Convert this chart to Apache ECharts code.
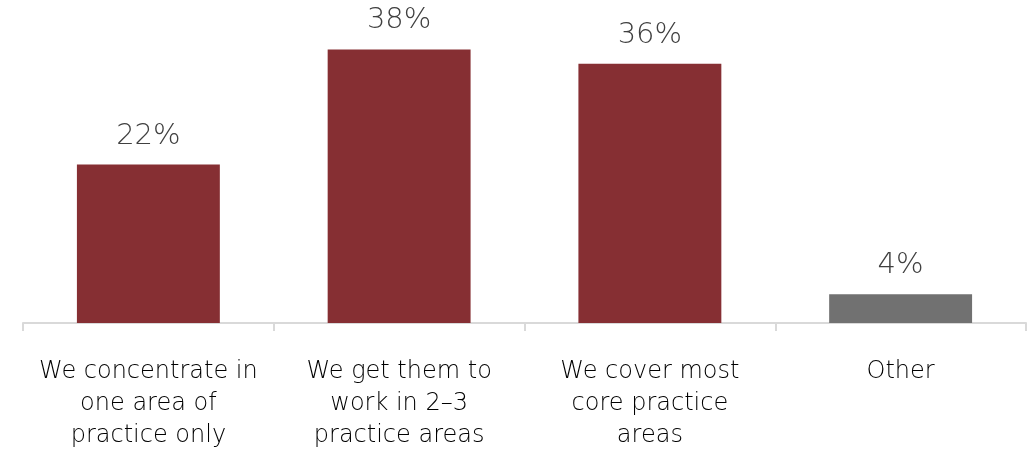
<!DOCTYPE html>
<html>
<head>
<meta charset="utf-8">
<script src="https://cdn.jsdelivr.net/npm/echarts@6/dist/echarts.min.js"></script>
<style>
  html, body { margin: 0; padding: 0; background: #ffffff; }
  #chart { width: 1036px; height: 452px; }
</style>
</head>
<body>
<div id="chart"></div>
<script>
// Survey answers: how practice areas are covered
const categories = [
  'We concentrate in\none area of\npractice only',
  'We get them to\nwork in 2\u20133\npractice areas',
  'We cover most\ncore practice\nareas',
  'Other'
];
const values = [22, 38, 36, 4];
const barColors = ['#862F33', '#862F33', '#862F33', '#717171'];

const chart = echarts.init(document.getElementById('chart'), null, { renderer: 'canvas' });

chart.setOption({
  animation: false,
  grid: { left: 23, right: 10, top: 35, bottom: 126, containLabel: false },
  xAxis: {
    type: 'category',
    data: categories,
    axisLine: { show: true, lineStyle: { color: '#d9d9d9', width: 2 } },
    axisTick: { show: true, length: 8, lineStyle: { color: '#d9d9d9', width: 2 } },
    axisLabel: {
      interval: 0,
      margin: 33,
      color: '#000000',
      fontFamily: '"DejaVu Sans", sans-serif',
      fontWeight: 300,
      fontSize: 24,
      lineHeight: 32,
      align: 'center'
    }
  },
  yAxis: {
    type: 'value',
    min: 0,
    max: 40,
    show: false,
    splitLine: { show: false }
  },
  series: [{
    type: 'bar',
    data: values.map((v, i) => ({ value: v, itemStyle: { color: barColors[i] } })),
    barWidth: '57%',
    label: {
      show: true,
      position: 'top',
      distance: 14,
      formatter: '{c}%',
      color: '#404040',
      fontFamily: '"DejaVu Sans", sans-serif',
      fontWeight: 300,
      fontSize: 29
    }
  }]
});
</script>
</body>
</html>
